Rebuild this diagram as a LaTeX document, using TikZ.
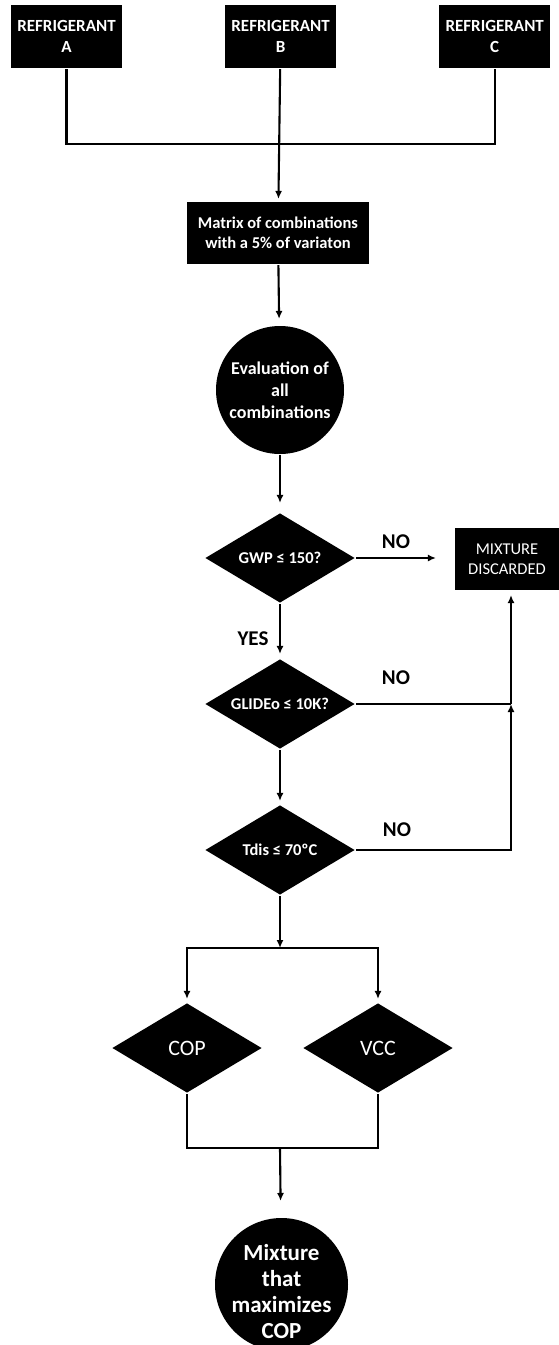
\documentclass[tikz,border=0pt]{standalone}
\usepackage{fontspec}
\setmainfont{Carlito}
\usetikzlibrary{arrows.meta,shapes.geometric,positioning}

\tikzset{
  refbox/.style={rectangle, fill=black, text=white, align=center, inner sep=0pt,
    minimum width=111pt, minimum height=63pt, font=\bfseries\fontsize{17}{21}\selectfont},
  decision/.style={diamond, fill=black, text=white, aspect=1.7, inner sep=0pt,
    minimum width=150pt, minimum height=90pt},
  blob/.style={circle, fill=black, text=white, align=center, inner sep=0pt},
  answer/.style={font=\bfseries\fontsize{21}{23}\selectfont}
}

\begin{document}
\begin{tikzpicture}[x=1pt, y=-1pt, line width=2.1pt, >={Latex[length=8pt,width=7pt]}]
	  \useasboundingbox (0,0) rectangle (558,1345);

	  \node[refbox] (A) at (66.5,36.5) {REFRIGERANT\\A};
	  \node[refbox] (B) [right=101pt of A] {REFRIGERANT\\B};
	  \node[refbox] (C) [right=101pt of B] {REFRIGERANT\\C};

	  \node[rectangle, fill=black, text=white, align=center, minimum width=182pt, minimum height=62pt,
	    font=\bfseries\fontsize{16.5}{20}\selectfont] (mat) at (278,233) {Matrix of combinations\\with a 5\% of variaton};
	  \node[blob, minimum size=128pt, font=\bfseries\fontsize{18}{22}\selectfont] (eval) at (280,390) {Evaluation of\\all\\combinations};

	  \node[decision, font=\bfseries\fontsize{16.5}{19}\selectfont] (gwp)   at (280,558) {GWP ≤ 150?};
	  \node[decision, font=\bfseries\fontsize{16.5}{19}\selectfont] (glide) at (280,704) {GLIDEo ≤ 10K?};
	  \node[decision, font=\bfseries\fontsize{16.5}{19}\selectfont] (tdis)  at (280,850) {Tdis ≤ 70ºC};

	  \node[rectangle, fill=black, text=white, align=center, minimum width=104pt, minimum height=62pt,
	    font=\fontsize{16.5}{20}\selectfont] (disc) at (507,559) {MIXTURE\\DISCARDED};

	  \node[decision, font=\fontsize{22}{24}\selectfont] (cop) at (187,1048) {COP};
	  \node[decision, font=\fontsize{22}{24}\selectfont] (vcc) at (378,1048) {VCC};

	  \node[blob, minimum size=133pt] (best) at (281.5,1284.5) {};
	  \node[text=white, align=center, font=\bfseries\fontsize{23}{26}\selectfont] (besttxt)
	    at ([yshift=-7pt]best.center) {Mixture\\that\\maximizes\\COP};

	  \node[answer] (no1) at (396,542) {NO};
	  \node[answer] (no2) at (396,678) {NO};
	  \node[answer] (no3) at (397,830) {NO};
	  \node[answer] (yes) at (253,639) {YES};

	  \coordinate (j1) at (278,144);
	  \coordinate (j2) at (511,704);
	  \coordinate (s1) at (280,948);
	  \coordinate (m1) at (280,1148);

	  \draw (A.south) |- (j1) -| (C.south);
	  \draw[->, shorten >=2pt] (B) -- (mat);
	  \draw[->, shorten >=6pt] (mat) -- (eval);
	  \draw[->, shorten >=9pt] (eval) -- (gwp);
	  \draw[->, shorten >=4pt] (gwp) -- (glide);
	  \draw[->, shorten >=3pt] (glide) -- (tdis);
	  \draw[->, shorten >=18pt] (gwp.east) -- (disc.west |- gwp.east);
	  \draw (glide.east) -- (j2);
	  \draw[->] (tdis.east) -| (j2);
	  \draw[->, shorten >=4pt] (j2) -- (j2 |- disc.south);
	  \draw[->] (tdis) -- (s1);
	  \draw[->, shorten >=3pt] (s1) -| (cop.north);
	  \draw[->, shorten >=3pt] (s1) -| (vcc.north);
	  \draw (cop.south) |- (m1) -| (vcc.south);
	  \draw[->, shorten >=16pt] (m1) -- (best);
	\end{tikzpicture}
\end{document}
